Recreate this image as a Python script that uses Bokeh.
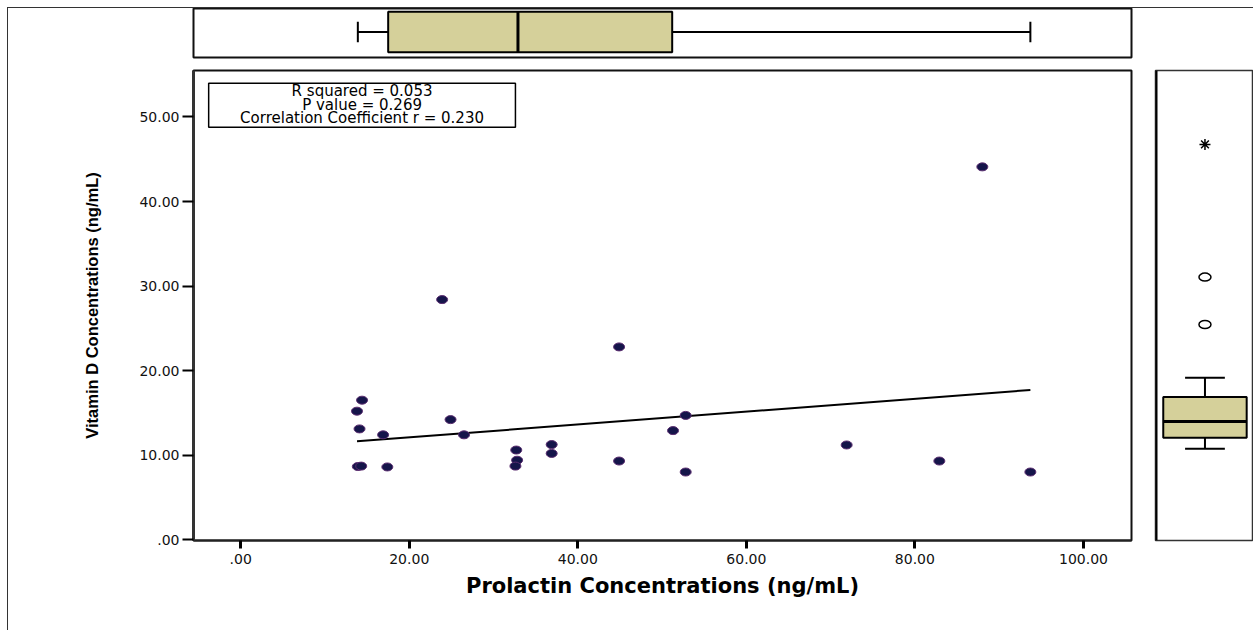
from bokeh.plotting import figure
from bokeh.models import Range1d, FixedTicker, Label, BoxAnnotation, Span
from bokeh.layouts import column, row
from bokeh.embed import file_html
from bokeh.resources import INLINE

# ---------------- data ----------------
prolactin = [14.4, 13.8, 14.1, 16.9, 24.9, 26.5, 32.7, 32.8, 32.6, 36.9, 36.9, 44.9,
             51.3, 52.8, 52.8, 13.9, 14.3, 17.4, 23.9, 44.9, 71.9, 82.9, 88.0, 93.7]
vitamin_d = [16.5, 15.2, 13.1, 12.4, 14.2, 12.4, 10.6, 9.4, 8.7, 11.25, 10.2, 9.3,
             12.9, 14.7, 8.0, 8.65, 8.7, 8.6, 28.4, 22.8, 11.2, 9.3, 44.1, 8.0]

fit_intercept = 10.58
fit_slope = 0.076

# box-plot statistics: [low whisker, Q1, median, Q3, high whisker]
prolactin_box = [13.9, 17.5, 32.9, 51.2, 93.7]
vitamin_d_box = [8.1, 9.4, 11.3, 14.2, 16.5]
vitamin_d_outliers = [22.8, 28.4]
vitamin_d_extremes = [44.1]

x_ticks = [0, 20, 40, 60, 80, 100]
x_tick_labels = [".00", "20.00", "40.00", "60.00", "80.00", "100.00"]
y_ticks = [0, 10, 20, 30, 40, 50]
y_tick_labels = [".00", "10.00", "20.00", "30.00", "40.00", "50.00"]

stats_lines = ["R squared = 0.053", "P value = 0.269", "Correlation Coefficient r = 0.230"]
x_title = "Prolactin Concentrations (ng/mL)"
y_title = "Vitamin D Concentrations (ng/mL)"

BOX_FILL = "#D5D09A"
EDGE = "#111111"
FONT = "DejaVu Sans"

# ---------------- main scatter panel ----------------
xr = Range1d(-5.6, 105.7)
p = figure(width=1135, height=561, x_range=xr, y_range=Range1d(-0.1, 55.5),
           output_backend="svg", toolbar_location=None,
           min_border_left=185, min_border_right=12, min_border_top=1, min_border_bottom=90)
p.background_fill_color = "white"
p.border_fill_color = "white"
p.outline_line_color = EDGE
p.outline_line_width = 2
p.xgrid.visible = False
p.ygrid.visible = False

p.xaxis.ticker = FixedTicker(ticks=x_ticks)
p.xaxis.major_label_overrides = dict(zip(x_ticks, x_tick_labels))
p.yaxis.ticker = FixedTicker(ticks=y_ticks)
p.yaxis.major_label_overrides = dict(zip(y_ticks, y_tick_labels))

for ax in (p.xaxis, p.yaxis):
    ax.minor_tick_line_color = None
    ax.major_tick_in = 0
    ax.major_label_text_font = FONT
    ax.major_label_text_font_size = "14px"
    ax.major_label_text_color = "#111111"
    ax.axis_label_text_font_style = "bold"
    ax.axis_label_text_color = "#000000"

p.xaxis.axis_line_width = 2
p.xaxis.axis_line_color = "#222222"
p.xaxis.major_tick_line_width = 3
p.xaxis.major_tick_out = 8
p.xaxis.major_label_standoff = 5
p.xaxis.axis_label = x_title
p.xaxis.axis_label_text_font = FONT
p.xaxis.axis_label_text_font_size = "21px"
p.xaxis.axis_label_standoff = 7

p.yaxis.axis_line_width = 3
p.yaxis.axis_line_color = "#333333"
p.yaxis.major_tick_line_width = 2
p.yaxis.major_tick_out = 11
p.yaxis.major_label_standoff = 3
p.yaxis.axis_label = y_title
p.yaxis.axis_label_text_font = "Liberation Sans"
p.yaxis.axis_label_text_font_size = "16.5px"
p.yaxis.axis_label_standoff = 35

# regression line across the observed prolactin range
x0, x1 = min(prolactin), max(prolactin)
p.line(x=[x0, x1], y=[fit_intercept + fit_slope * x0, fit_intercept + fit_slope * x1],
       line_color="#000000", line_width=2)

p.ellipse(x=prolactin, y=vitamin_d, width=11, height=8,
          width_units="screen", height_units="screen",
          fill_color="#15154a", line_color="#5b2d70", line_width=1)

# statistics box
p.add_layout(BoxAnnotation(left=-3.8, right=32.6, top=54.0, bottom=48.8,
                           fill_color="white", fill_alpha=1.0,
                           line_color="#000000", line_width=1.5, line_alpha=1.0))
for txt, yy in zip(stats_lines, [53.05, 51.45, 49.85]):
    p.add_layout(Label(x=14.4, y=yy, text=txt, text_align="center", text_baseline="middle",
                       text_font=FONT, text_font_size="15px", text_color="#000000"))

# ---------------- top marginal box plot (prolactin) ----------------
top = figure(width=1245, height=61, x_range=xr, y_range=Range1d(0, 1),
             output_backend="svg", toolbar_location=None,
             x_axis_location=None, y_axis_location=None,
             min_border_left=185, min_border_right=122, min_border_top=0, min_border_bottom=12)
top.xgrid.visible = False
top.ygrid.visible = False
top.outline_line_color = EDGE
top.outline_line_width = 2
lo, q1, med, q3, hi = prolactin_box
yc, bh, ch = 0.52, 0.83, 0.42
top.segment(x0=[lo, q3], y0=[yc, yc], x1=[q1, hi], y1=[yc, yc], line_color="#000000", line_width=2)
top.segment(x0=[lo, hi], y0=[yc - ch / 2] * 2, x1=[lo, hi], y1=[yc + ch / 2] * 2,
            line_color="#000000", line_width=2)
top.hbar(y=[yc], left=[q1], right=[q3], height=bh, fill_color=BOX_FILL,
         line_color="#000000", line_width=2)
top.segment(x0=[med], y0=[yc - bh / 2], x1=[med], y1=[yc + bh / 2], line_color="#000000", line_width=3)

# ---------------- right marginal box plot (vitamin D) ----------------
rf = figure(width=110, height=561, x_range=Range1d(0, 1), y_range=Range1d(-2.77, 52.85),
            output_backend="svg", toolbar_location=None,
            x_axis_location=None, y_axis_location=None,
            min_border_left=12, min_border_right=1, min_border_top=1, min_border_bottom=90)
rf.xgrid.visible = False
rf.ygrid.visible = False
rf.outline_line_color = "#333333"
rf.outline_line_width = 1.5
rf.add_layout(Span(location=0, dimension="height", line_color="#000000", line_width=4))
lo, q1, med, q3, hi = vitamin_d_box
xc, bw, cw = 0.51, 0.86, 0.41
rf.segment(x0=[xc, xc], y0=[lo, q3], x1=[xc, xc], y1=[q1, hi], line_color="#000000", line_width=2)
rf.segment(x0=[xc - cw / 2] * 2, y0=[lo, hi], x1=[xc + cw / 2] * 2, y1=[lo, hi],
           line_color="#000000", line_width=2)
rf.vbar(x=[xc], bottom=[q1], top=[q3], width=bw, fill_color=BOX_FILL,
        line_color="#000000", line_width=2)
rf.segment(x0=[xc - bw / 2], y0=[med], x1=[xc + bw / 2], y1=[med], line_color="#000000", line_width=3)
rf.ellipse(x=[xc] * len(vitamin_d_outliers), y=vitamin_d_outliers, width=12, height=8,
           width_units="screen", height_units="screen",
           fill_color=None, line_color="#000000", line_width=1.5)
rf.scatter(x=[xc] * len(vitamin_d_extremes), y=vitamin_d_extremes, marker="asterisk",
           size=11, line_color="#000000", line_width=1.5)

layout = column(top, row(p, rf, spacing=0), spacing=0,
                styles={"margin-left": "7px", "margin-top": "7px",
                        "border-top": "1px solid #333333", "border-left": "1px solid #333333"})

open("out.html", "w").write(file_html(layout, INLINE))
